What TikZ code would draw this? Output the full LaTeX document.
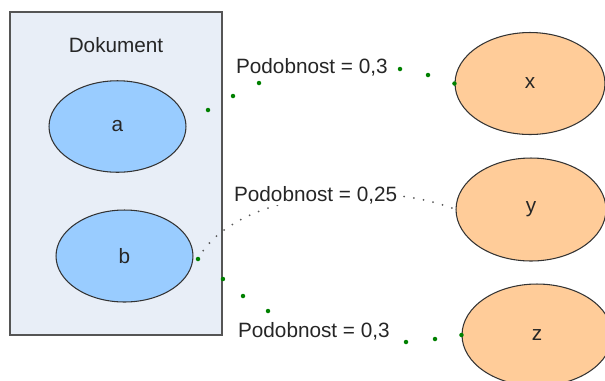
\documentclass[tikz,border=0pt]{standalone}
\usepackage{fontspec}
\setmainfont{Liberation Sans}
\usetikzlibrary{shapes.geometric}
\definecolor{docfill}{RGB}{232,238,247}
\definecolor{bluefill}{RGB}{153,204,255}
\definecolor{orangefill}{RGB}{255,204,153}
\definecolor{framegray}{RGB}{85,85,85}
\definecolor{dotgreen}{RGB}{0,128,0}
\definecolor{linkgray}{RGB}{90,90,90}
\begin{document}
\begin{tikzpicture}[x=0.02cm,y=-0.02cm,
  every node/.style={font=\fontsize{11.8}{14}\selectfont, text=black!85},
  docbox/.style={rectangle, draw=framegray, line width=1.1pt, fill=docfill,
    minimum width=4.24cm, minimum height=6.46cm},
  term/.style={ellipse, draw=black!80, line width=0.6pt, inner sep=0pt},
  blueterm/.style={term, fill=bluefill, minimum width=2.74cm, minimum height=1.83cm},
  orangeterm/.style={term, fill=orangefill, minimum width=3.0cm, minimum height=2.04cm},
  simlabel/.style={fill=white, inner sep=1pt, anchor=base west},
  waypoint/.style={circle, fill=dotgreen, inner sep=0pt, minimum size=0.09cm},
  simlink/.style={draw=linkgray, line width=1.15pt, line cap=round,
    dash pattern=on 0pt off 5.6pt}]
  \useasboundingbox (0,0) rectangle (605,380);
  \clip (0,0) rectangle (605,380);

  % document with its two terms
  \node[docbox] (doc) at (116,173.5) {};
  \node (doctitle) at (116,45) {Dokument};
  \node[blueterm] (a) at (117.5,126.5) {a};
  \node[blueterm, minimum height=1.84cm] (b) at (124.5,256) {b};

  % terms of the other side
  \node[orangeterm] (x) at (530,83.5) {x};
  \node[orangeterm, minimum height=2.06cm] (y) at (531,209.5) {y};
  \node[orangeterm] (z) at (537,335) {z};

  % dotted link b -> y, partly covered by its label
  \coordinate (bout) at (198,259);
  \draw[simlink] (bout) .. controls (235,190) and (385,180) .. (y.west);
  \node[simlabel] (l2) at (232,201) {Podobnost = 0,25};
  \node[waypoint] (pb) at (bout) {};

  % link a -> x, shown by its way points
  \node[simlabel] (l1) at (234,73) {Podobnost = 0,3};
  \node[waypoint] (p11) at (208,110) {};
  \node[waypoint] (p12) at (233,96) {};
  \node[waypoint] (p13) at (259,83) {};
  \node[waypoint] (p14) at (400,69) {};
  \node[waypoint] (p15) at (428,75) {};
  \node[waypoint] (p16) at (x.west) {};

  % link doc -> z, shown by its way points
  \node[simlabel] (l3) at (236,337) {Podobnost = 0,3};
  \node[waypoint] (p31) at (doc.east |- 0,279) {};
  \node[waypoint] (p32) at (243,296) {};
  \node[waypoint] (p33) at (268,311) {};
  \node[waypoint] (p34) at (406,342) {};
  \node[waypoint] (p35) at (435,339) {};
  \node[waypoint] (p36) at (z.west) {};
\end{tikzpicture}
\end{document}
